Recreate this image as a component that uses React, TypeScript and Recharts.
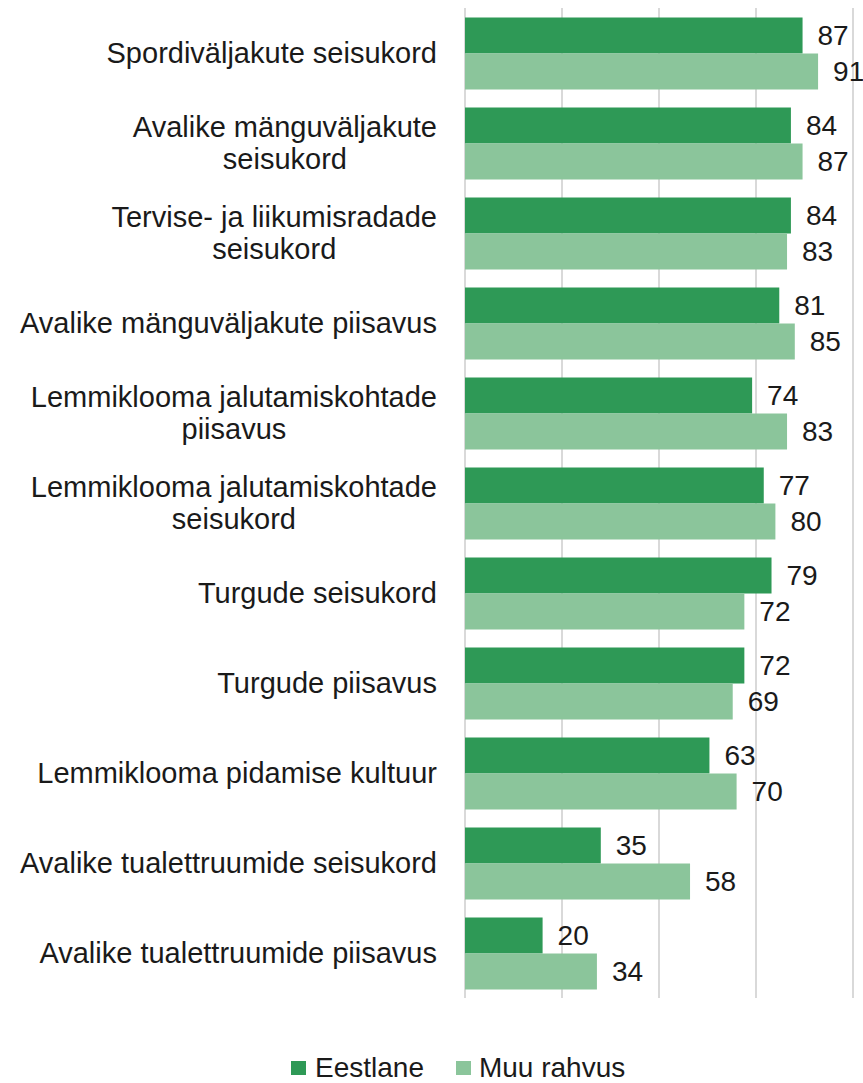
import React from 'react';
import { BarChart, Bar, XAxis, YAxis, CartesianGrid, LabelList } from 'recharts';

const categories = [
  'Spordiväljakute seisukord',
  'Avalike mänguväljakute\nseisukord',
  'Tervise- ja liikumisradade\nseisukord',
  'Avalike mänguväljakute piisavus',
  'Lemmiklooma jalutamiskohtade\npiisavus',
  'Lemmiklooma jalutamiskohtade\nseisukord',
  'Turgude seisukord',
  'Turgude piisavus',
  'Lemmiklooma pidamise kultuur',
  'Avalike tualettruumide seisukord',
  'Avalike tualettruumide piisavus',
];
const eestlane = [87, 84, 84, 81, 74, 77, 79, 72, 63, 35, 20];
const muuRahvus = [91, 87, 83, 85, 83, 80, 72, 69, 70, 58, 34];
const xTicks = [0, 25, 50, 75, 100];

const data = categories.map((name, i) => ({ name, eestlane: eestlane[i], muu: muuRahvus[i] }));

const FONT = '"Liberation Sans", Arial, sans-serif';
const DARK = '#2e9956';
const LIGHT = '#8bc59b';
const TEXT = '#1a1a1a';
const CAT_SIZE = 29;

let ctx: CanvasRenderingContext2D | null = null;
const measure = (s: string) => {
  if (!ctx) ctx = document.createElement('canvas').getContext('2d');
  if (!ctx) return s.length * 14;
  ctx.font = `${CAT_SIZE}px ${FONT}`;
  return ctx.measureText(s).width;
};

const CategoryTick = (props: any) => {
  const { y, payload } = props;
  const lines: string[] = String(payload.value).split('\n');
  const maxW = Math.max(...lines.map(measure));
  const cx = 437 - maxW / 2;
  const lh = 32;
  const startY = y - ((lines.length - 1) * lh) / 2;
  return (
    <text fontFamily={FONT} fontSize={CAT_SIZE} fill={TEXT} textAnchor="middle">
      {lines.map((l, i) => (
        <tspan key={i} x={cx} y={startY + i * lh} dy="0.35em">{l}</tspan>
      ))}
    </text>
  );
};

// vertical gridlines at the x tick values, through the axis scale
const gridX = ({ xAxis, offset }: any) =>
  xTicks.map((t) =>
    xAxis && typeof xAxis.scale === 'function'
      ? xAxis.scale(t)
      : offset.left + (t / 100) * offset.width
  );

export default function App() {
  return (
    <div style={{ position: 'relative', width: 863, height: 1083, background: '#fff', overflow: 'hidden' }}>
      <style>{'body{margin:0}'}</style>
      <BarChart
        width={863}
        height={1083}
        data={data}
        layout="vertical"
        margin={{ top: 8, right: 10, left: 0, bottom: 85 }}
        barCategoryGap="10.5%"
        barGap={0}
      >
        <CartesianGrid horizontal={false} stroke="#d9d9d9" strokeWidth={2} verticalCoordinatesGenerator={gridX} />
        <XAxis type="number" domain={[0, 100]} ticks={xTicks} tick={false} axisLine={false} tickLine={false} height={0} />
        <YAxis type="category" dataKey="name" width={465} axisLine={false} tickLine={false} tick={<CategoryTick />} interval={0} />
        <Bar dataKey="eestlane" fill={DARK} isAnimationActive={false}>
          <LabelList dataKey="eestlane" position="right" offset={15} fill={TEXT} fontSize={28} fontFamily={FONT} />
        </Bar>
        <Bar dataKey="muu" fill={LIGHT} isAnimationActive={false}>
          <LabelList dataKey="muu" position="right" offset={15} fill={TEXT} fontSize={28} fontFamily={FONT} />
        </Bar>
      </BarChart>
      <div style={{ position: 'absolute', top: 1054, left: 291, display: 'flex', alignItems: 'center', fontFamily: FONT, fontSize: 28, lineHeight: '28px', color: TEXT }}>
        <span style={{ width: 15, height: 14, background: DARK, display: 'inline-block', marginRight: 9 }} />
        <span style={{ marginRight: 32 }}>Eestlane</span>
        <span style={{ width: 15, height: 14, background: LIGHT, display: 'inline-block', marginRight: 8 }} />
        <span>Muu rahvus</span>
      </div>
    </div>
  );
}
